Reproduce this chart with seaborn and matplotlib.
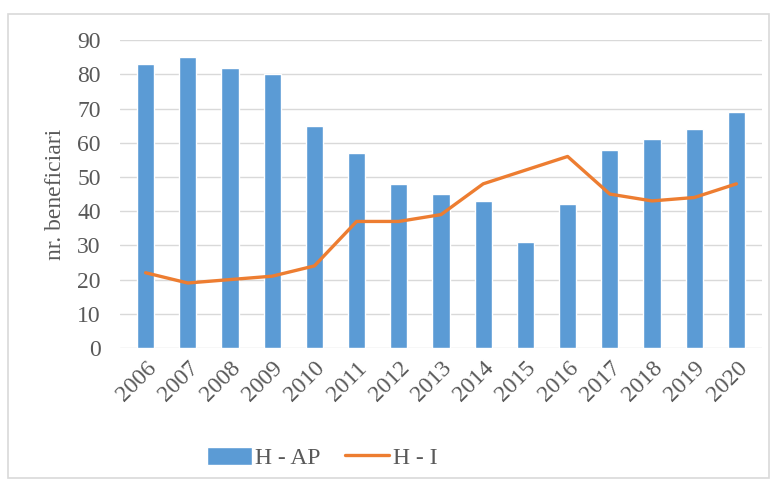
import numpy as np
import pandas as pd
import matplotlib
matplotlib.use("Agg")
import matplotlib.pyplot as plt
from matplotlib.patches import Rectangle
import seaborn as sns

years = [str(y) for y in range(2006, 2021)]
h_ap = [83, 85, 82, 80, 65, 57, 48, 45, 43, 31, 42, 58, 61, 64, 69]
h_i = [22, 19, 20, 21, 24, 37, 37, 39, 48, 52, 56, 45, 43, 44, 48]

sns.set_style("white")
plt.rcParams["font.family"] = ["Liberation Serif", "DejaVu Serif"]

df = pd.DataFrame({"year": years, "H - AP": h_ap, "H - I": h_i, "pos": np.arange(len(years))})

fig = plt.figure(figsize=(7.71, 4.84), dpi=100)
ax = fig.add_axes([0.156, 0.281, 0.832, 0.636])

#bars and line
sns.barplot(data=df, x="year", y="H - AP", color="#5B9BD5", saturation=1,
            width=0.41, ax=ax, label="H - AP", zorder=2)
sns.lineplot(data=df, x="pos", y="H - I", color="#ED7D31", linewidth=2.4,
             ax=ax, label="H - I", zorder=3)

ax.set_ylim(0, 90)
ax.set_yticks(range(0, 91, 10))
ax.set_xlim(-0.6, 14.6)
ax.set_xticks(range(len(years)))
ax.set_xticklabels(years, rotation=45, ha="right", rotation_mode="anchor")
ax.tick_params(axis="both", labelsize=17, colors="#595959", length=0)
ax.tick_params(axis="x", pad=7)
ax.tick_params(axis="y", pad=14)
ax.set_xlabel("")
ax.set_ylabel("nr. beneficiari", fontsize=17, color="#595959", labelpad=8)
ax.yaxis.grid(True, color="#d9d9d9", linewidth=1)
ax.set_axisbelow(True)
for s in ax.spines.values():
    s.set_visible(False)

handles, labels = ax.get_legend_handles_labels()
order = [labels.index("H - AP"), labels.index("H - I")]
ax.legend([handles[i] for i in order], [labels[i] for i in order],
          loc="center", bbox_to_anchor=(0.418, 0.054), bbox_transform=fig.transFigure,
          ncol=2, frameon=False, fontsize=17, handlelength=1.9, handleheight=0.8,
          columnspacing=1.0, handletextpad=0.15, labelcolor="#595959")

fig.patches.append(Rectangle((0.011, 0.012), 0.986, 0.959, transform=fig.transFigure,
                             fill=False, edgecolor="#d9d9d9", linewidth=1.2))

fig.savefig("out.png", dpi=100)
